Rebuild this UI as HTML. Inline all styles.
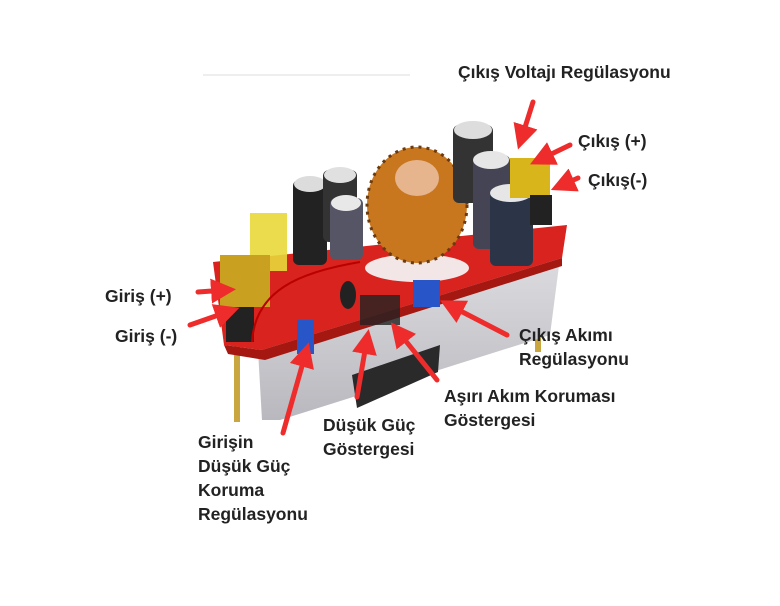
<!DOCTYPE html>
<html><head><meta charset="utf-8"><style>
body{margin:0;background:#fff;width:780px;height:606px;overflow:hidden;position:relative;font-family:"Liberation Sans",sans-serif}
.t{position:absolute;font-weight:bold;font-size:17.5px;color:#222;line-height:24px;white-space:nowrap}
svg{position:absolute;left:0;top:0}
</style></head><body>
<svg width="780" height="606" viewBox="0 0 780 606">
<defs>
<marker id="ah" markerWidth="5" markerHeight="5" refX="3" refY="2.5" orient="auto" markerUnits="strokeWidth"><path d="M0,0 L5,2.5 L0,5 z" fill="#ee2c2c"/></marker>
<linearGradient id="hs" x1="0" y1="0" x2="0" y2="1"><stop offset="0" stop-color="#dcdce0"/><stop offset="1" stop-color="#b8b8be"/></linearGradient>
</defs>
<line x1="203" y1="75" x2="410" y2="75" stroke="#eee" stroke-width="2"/>
<rect x="234" y="330" width="6" height="92" fill="#c9a640"/>
<rect x="535" y="260" width="6" height="92" fill="#c9a640"/>
<polygon points="258,350 560,258 550,335 280,420 262,420" fill="url(#hs)"/>
<polygon points="352,375 440,345 438,372 357,408" fill="#2a2a2a"/>
<polygon points="213,262 567,225 562,258 262,350 224,345" fill="#d8231e"/>
<polygon points="224,345 262,350 562,258 562,266 265,360 228,354" fill="#a51812"/>
<rect x="293" y="180" width="34" height="85" rx="6" fill="#222"/><ellipse cx="310" cy="184" rx="16" ry="8" fill="#dcdcdc"/>
<rect x="323" y="170" width="34" height="72" rx="6" fill="#333"/><ellipse cx="340" cy="175" rx="16" ry="8" fill="#e0e0e0"/>
<rect x="330" y="198" width="33" height="62" rx="6" fill="#556"/><ellipse cx="346" cy="203" rx="15" ry="8" fill="#e8e8e8"/>
<ellipse cx="417" cy="268" rx="52" ry="14" fill="#f2e6e6"/>
<ellipse cx="417" cy="205" rx="50" ry="58" fill="#c8771f"/>
<ellipse cx="417" cy="205" rx="50" ry="58" fill="none" stroke="#6a3a10" stroke-width="3" stroke-dasharray="3 5"/>
<ellipse cx="417" cy="178" rx="22" ry="18" fill="#e6b58e"/>
<rect x="453" y="125" width="40" height="78" rx="6" fill="#333"/><ellipse cx="473" cy="130" rx="19" ry="9" fill="#ddd"/>
<rect x="473" y="155" width="37" height="94" rx="6" fill="#445"/><ellipse cx="491" cy="160" rx="18" ry="9" fill="#e6e6e6"/>
<rect x="490" y="188" width="43" height="78" rx="6" fill="#2c3448"/><ellipse cx="511" cy="193" rx="21" ry="9" fill="#e6e6e6"/>
<rect x="510" y="158" width="40" height="40" fill="#d9b51c"/><rect x="530" y="195" width="22" height="30" fill="#222"/>
<rect x="250" y="213" width="37" height="58" fill="#e8d83a" opacity=".9"/>
<rect x="220" y="255" width="50" height="52" fill="#c9a020"/>
<rect x="226" y="307" width="28" height="35" fill="#222"/>
<rect x="413" y="280" width="27" height="27" fill="#2855c8"/>
<rect x="297" y="320" width="17" height="34" fill="#2855c8"/>
<rect x="360" y="295" width="40" height="30" fill="#222" opacity=".8"/>
<ellipse cx="348" cy="295" rx="8" ry="14" fill="#222"/>
<path d="M252,342 C255,290 300,272 360,262" stroke="#b00" stroke-width="2" fill="none"/>
<g stroke="#ee2c2c" stroke-width="5" fill="none" marker-end="url(#ah)" stroke-linecap="round">
<line x1="533" y1="102" x2="521" y2="140"/>
<line x1="570" y1="145" x2="539" y2="160"/>
<line x1="578" y1="178" x2="560" y2="186"/>
<line x1="198" y1="292" x2="226" y2="290"/>
<line x1="190" y1="325" x2="230" y2="311"/>
<line x1="507" y1="335" x2="449" y2="305"/>
<line x1="437" y1="380" x2="397" y2="330"/>
<line x1="357" y1="397" x2="367" y2="339"/>
<line x1="283" y1="433" x2="306" y2="352"/>
</g>
</svg>
<div class="t" style="left:458px;top:60px">Çıkış Voltajı Regülasyonu</div>
<div class="t" style="left:578px;top:129px">Çıkış (+)</div>
<div class="t" style="left:588px;top:168px">Çıkış(-)</div>
<div class="t" style="left:105px;top:284px">Giriş (+)</div>
<div class="t" style="left:115px;top:324px">Giriş (-)</div>
<div class="t" style="left:519px;top:323px">Çıkış Akımı<br>Regülasyonu</div>
<div class="t" style="left:444px;top:384px">Aşırı Akım Koruması<br>Göstergesi</div>
<div class="t" style="left:323px;top:413px">Düşük Güç<br>Göstergesi</div>
<div class="t" style="left:198px;top:430px">Girişin<br>Düşük Güç<br>Koruma<br>Regülasyonu</div>
</body></html>
